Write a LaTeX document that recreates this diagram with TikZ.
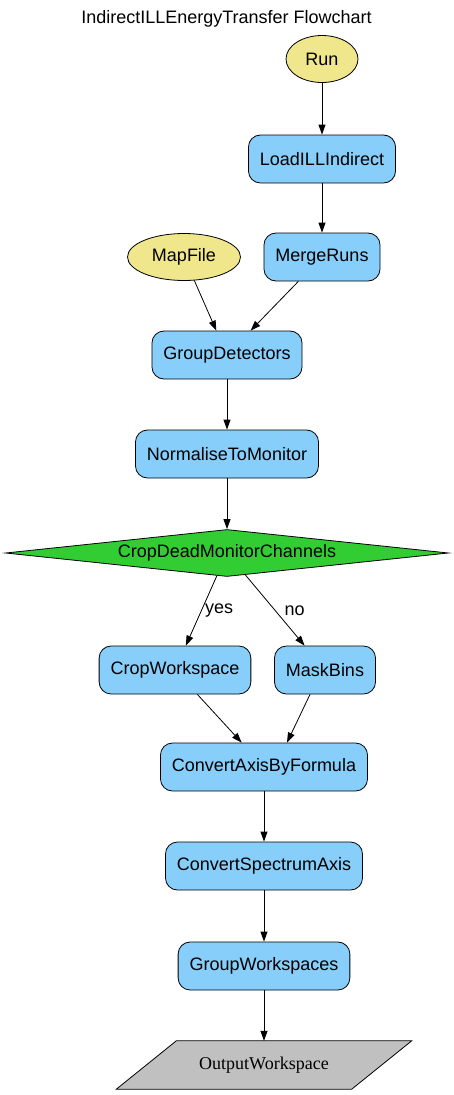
\documentclass[tikz,border=0pt]{standalone}
\usepackage{fontspec}
\setmainfont{Liberation Sans}
\newfontfamily\outserif{Liberation Serif}
\usepackage{tikz}
\usetikzlibrary{shapes,arrows.meta,backgrounds}
\usetikzlibrary{calc}
\definecolor{algblue}{HTML}{87CEFA}
\definecolor{inkhaki}{HTML}{F0E68C}
\definecolor{decgreen}{HTML}{32CD32}
\definecolor{outgrey}{HTML}{C0C0C0}
\tikzstyle{algblock} = [rectangle, draw, fill=algblue, line width=0.8pt,
    rounded corners=12pt, minimum height=48pt, inner xsep=11.5pt]
\tikzstyle{inblock} = [ellipse, draw, fill=inkhaki, line width=0.8pt,
    minimum height=47pt, inner sep=0pt]
\tikzstyle{decision} = [diamond, draw, fill=decgreen, line width=0.8pt,
    minimum width=443pt, minimum height=47pt, aspect=9.4, inner sep=0pt]
\tikzstyle{outblock} = [rectangle, minimum width=295pt, minimum height=48pt,
    inner sep=0pt, font=\outserif\fontsize{18}{21}\selectfont]
\tikzstyle{flowline} = [draw, line width=0.8pt, -{Triangle[length=10pt,width=7pt]}]

\begin{document}
\begin{tikzpicture}[x=1pt, y=1pt, node distance=99pt, font=\fontsize{18}{21}\selectfont]
    \useasboundingbox (0,0) rectangle (453,-1095);
    \node (title) at (226.5,-19) {IndirectILLEnergyTransfer Flowchart};
    \node [inblock, minimum width=72pt] (run) at (322,-59) {Run};
    \node [algblock, below of=run, node distance=100pt] (load) {LoadILLIndirect};
    \node [algblock, below of=load, node distance=98pt] (merge) {MergeRuns};
    \node [inblock, left of=merge, node distance=138pt, minimum width=113pt] (mapfile) {MapFile};
    \node [algblock] (groupdet) at (227,-355) {GroupDetectors};
    \node [algblock, below of=groupdet] (norm) {NormaliseToMonitor};
    \node [decision, below of=norm] (cropdead) {CropDeadMonitorChannels};
    \node [algblock] (crop) at (175,-670) {CropWorkspace};
    \node [algblock, right of=crop, node distance=150pt] (mask) {MaskBins};
    \node [algblock] (convaxis) at (264,-767) {ConvertAxisByFormula};
    \node [algblock, below of=convaxis] (convspec) {ConvertSpectrumAxis};
    \node [algblock, below of=convspec, node distance=100pt] (groupws) {GroupWorkspaces};
    \node [outblock, below of=groupws] (outws) {OutputWorkspace};
    % parallelogram behind the output text
    \begin{scope}[on background layer]
    \draw [fill=outgrey, line width=0.8pt] (outws.south west) -- ([xshift=-60pt]outws.south east)
        -- (outws.north east) -- ([xshift=60pt]outws.north west) -- cycle;
    \end{scope}
    % Draw edges
    \draw [flowline] (run) -- (load);
    \draw [flowline] (load) -- (merge);
    \draw [flowline] (mapfile) -- (groupdet);
    \draw [flowline] (merge) -- (groupdet);
    \draw [flowline] (groupdet) -- (norm);
    \draw [flowline] (norm) -- (cropdead);
    \draw [flowline] (cropdead) -- node[right] {yes} (crop);
    \draw [flowline] (cropdead) -- node[right, xshift=6pt] {no} (mask);
    \draw [flowline] (crop) -- (convaxis);
    \draw [flowline] ([xshift=-15pt]mask.south) -- ([xshift=23pt]convaxis.north);
    \draw [flowline] (convaxis) -- (convspec);
    \draw [flowline] (convspec) -- (groupws);
    \draw [flowline] (groupws) -- (outws);
\end{tikzpicture}
\end{document}
